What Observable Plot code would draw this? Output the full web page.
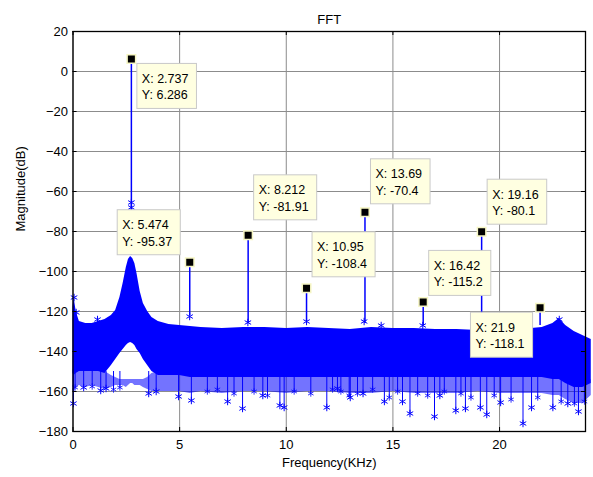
<!DOCTYPE html>
<html>
<head>
<meta charset="utf-8">
<script src="https://cdn.jsdelivr.net/npm/d3@7"></script>
<script src="https://cdn.jsdelivr.net/npm/@observablehq/plot@0.6"></script>
<style>
  html, body { margin: 0; padding: 0; background: white; }
  svg { display: block; }
</style>
</head>
<body>
<script>
// ---- Data ----
const xTicks = [0, 5, 10, 15, 20];
const yTicks = [20, 0, -20, -40, -60, -80, -100, -120, -140, -160, -180];

// Harmonic peaks (data tips)
const harmF = [2.737, 5.474, 8.212, 10.95, 13.69, 16.42, 19.16, 21.9];
const harmV = [6.286, -95.37, -81.91, -108.4, -70.4, -115.2, -80.1, -118.1];
const harmBase = [-92, -122, -126, -125, -126, -127, -129, -127];

// Noise floor envelope (kHz, dB)
const noiseF = [0, 0.05, 0.15, 0.3, 0.6, 0.9, 1.2, 1.5, 1.8, 2.0, 2.2, 2.35, 2.5, 2.6, 2.7, 2.8, 2.9, 3.0, 3.15, 3.3, 3.5, 3.7, 4.0, 4.5, 5.0, 5.5, 6, 7, 8, 9, 10, 11, 12, 13, 14, 15, 16, 17, 18, 19, 20, 21, 22, 22.5, 22.8, 23.1, 23.5, 23.9, 24.3];
const noiseTop = [-118, -113, -120, -125, -126, -126, -125, -124, -122, -119.5, -113, -106, -98, -94, -92.5, -93.5, -96, -101, -110, -116, -120, -123, -125, -126.5, -127, -127.5, -128, -128.5, -128, -128, -128.5, -128, -128.5, -129, -128, -128.5, -128.5, -129, -129, -129.5, -129, -129, -128, -126, -123.5, -127, -130, -132, -134];
const noiseBottom = [-151, -152, -151, -150, -150, -150, -150, -151, -147, -144, -141, -139, -137, -136, -135.5, -136, -137, -139, -141, -144, -147, -150, -152, -152, -152, -153, -153, -153, -153, -153, -153, -153, -153, -153, -153, -153, -153, -153, -153, -153, -153, -153, -153, -154, -154, -156, -158, -158, -156];
const fringeTop = [-149, -150, -149, -148, -148, -148, -148, -150, -152, -153, -154, -154, -154, -154, -154, -154, -154, -154, -154, -154, -153, -151, -150, -150, -150, -151, -151, -151, -151, -151, -151, -151, -151, -151, -151, -151, -151, -151, -151, -151, -151, -151, -151, -152, -152, -154, -156, -156, -154];
const fringeBottom = [-160, -161, -158, -157, -158, -157, -158, -159, -158, -157, -157, -157, -158, -157, -156, -156, -157, -157, -157, -158, -159, -160, -160, -160, -160, -161, -160, -161, -160, -160, -161, -160, -160, -161, -161, -160, -161, -161, -161, -160, -161, -161, -161, -162, -162, -164, -166, -166, -162];

// Deep dips below the noise floor
const dipF = [0.02, 0.5, 1.3, 1.55, 3.55, 3.9, 4.95, 5.55, 7.25, 7.95, 8.9, 9.7, 9.9, 11.9, 12.4, 13.0, 13.6, 14.6, 15.45, 15.8, 16.95, 17.2, 17.95, 18.4, 19.1, 19.4, 20.05, 21.1, 21.5, 22.5, 23.2, 23.7];
const dipV = [-166, -158, -159.5, -158.5, -161, -160, -162.5, -164.5, -165, -168.5, -162, -167, -168, -168, -158.5, -163, -161, -165, -165, -171, -172.5, -162, -169.5, -168.5, -168, -171.5, -165.5, -176, -168, -168, -166, -170];

// Shallower dips (asterisk fringe)
const fringeDipF = [0.1, 0.9, 1.9, 2.2, 6.3, 6.77, 7.55, 8.49, 9.12, 10.37, 11.15, 12.17, 12.56, 12.95, 13.34, 14.05, 14.83, 15.22, 16.16, 16.63, 17.41, 18.19, 18.66, 19.75, 20.54, 21.79, 22.89, 23.51, 23.98];
const fringeDipV = [-158, -157.5, -159, -158, -160, -159, -161, -160, -162, -160, -161, -159, -160, -162, -161, -159, -163, -160, -161, -162, -160, -161, -163, -162, -164, -163, -165, -166, -165];

// Asterisk bumps on top of the noise floor
const bumpF = [0.05, 0.15, 1.15, 5.47, 8.2, 10.95, 13.65, 14.45, 16.4, 22.8, 2.737, 2.737];
const bumpV = [-113, -120.5, -124, -122.5, -125.5, -125, -125, -127, -127, -124, -65.5, -68];

// Data-tip placement (layout, not data)
const tipDx = [6, -9, 6, 6, 6, 6, 6, -7];
const tipDy = [5, -7, -15, -11, -8, -6, -7, 5];
const tipSide = ["se", "nw", "ne", "ne", "ne", "ne", "ne", "sw"];

// ---- Build tables ----
const noise = noiseF.map((f, i) => ({f, top: noiseTop[i], bot: noiseBottom[i], ft: fringeTop[i], fb: fringeBottom[i]}));
const harm = harmF.map((f, i) => ({f, v: harmV[i], base: harmBase[i]}));
const dips = dipF.map((f, i) => ({f, v: dipV[i]}));
const fdips = fringeDipF.map((f, i) => ({f, v: fringeDipV[i]}));
const bumps = bumpF.map((f, i) => ({f, v: bumpV[i]}));

const BLUE = "#0000ff";
const GRID = "#8c8c8c";
const XMAX = 24.03;

const chart = Plot.plot({
  width: 593,
  height: 477,
  marginLeft: 72.5,
  marginRight: 8,
  marginTop: 31,
  marginBottom: 46,
  style: {fontFamily: "'Liberation Sans', Arial, sans-serif", fontSize: "13px", color: "black", background: "white", overflow: "visible"},
  x: {domain: [0, XMAX], ticks: xTicks, tickSize: 0, tickPadding: 8, label: null},
  y: {domain: [-180, 20], ticks: yTicks, tickSize: 0, tickPadding: 5, label: null},
  marks: [
    Plot.ruleX(xTicks, {x: d => d, stroke: GRID, strokeWidth: 1}),
    Plot.ruleY(yTicks, {y: d => d, stroke: GRID, strokeWidth: 1}),
    // noise floor
    Plot.areaY(noise, {x: "f", y1: "fb", y2: "ft", fill: BLUE, fillOpacity: 0.55}),
    Plot.ruleX(dips, {x: "f", y1: d => -150, y2: "v", stroke: BLUE, strokeWidth: 1}),
    Plot.dot(dips, {x: "f", y: "v", symbol: "asterisk", r: 3.5, stroke: BLUE, strokeWidth: 1}),
    Plot.ruleX(fdips, {x: "f", y1: d => -150, y2: "v", stroke: BLUE, strokeWidth: 1}),
    Plot.dot(fdips, {x: "f", y: "v", symbol: "asterisk", r: 3, stroke: BLUE, strokeWidth: 1, strokeOpacity: 0.8}),
    Plot.areaY(noise, {x: "f", y1: "bot", y2: "top", fill: BLUE}),
    Plot.dot(bumps, {x: "f", y: "v", symbol: "asterisk", r: 3.5, stroke: BLUE, strokeWidth: 1}),
    // harmonic stems
    Plot.ruleX(harm, {x: "f", y1: "base", y2: "v", stroke: BLUE, strokeWidth: 1.5}),
    Plot.dot(harm, {x: "f", y: "v", symbol: "square", r: 4.8, fill: "black", stroke: "#f6f6c4", strokeWidth: 1.5}),
    // inward ticks
    Plot.ruleX(xTicks, {x: d => d, y1: d => -180, y2: d => -178, stroke: "black"}),
    Plot.ruleX(xTicks, {x: d => d, y1: d => 20, y2: d => 18, stroke: "black"}),
    Plot.ruleY(yTicks, {y: d => d, x1: d => 0, x2: d => 0.19, stroke: "black"}),
    Plot.ruleY(yTicks, {y: d => d, x1: d => XMAX - 0.19, x2: d => XMAX, stroke: "black"}),
    Plot.frame({stroke: "black", strokeWidth: 1.3}),
    // titles
    Plot.text(["FFT"], {text: d => d, frameAnchor: "top", dy: -17, fontSize: 13}),
    Plot.text(["Frequency(KHz)"], {text: d => d, frameAnchor: "bottom", dy: 35, fontSize: 13}),
    Plot.text(["Magnitude(dB)"], {text: d => d, frameAnchor: "left", dx: -52.5, rotate: -90, fontSize: 13})
  ]
});

document.body.appendChild(chart);

// ---- Data tips (boxes) positioned through the plot's own scales ----
const sx = chart.scale("x"), sy = chart.scale("y");
const svg = d3.select(chart);
const tipLayer = svg.append("g")
  .attr("font-family", "'Liberation Sans', Arial, sans-serif")
  .attr("font-size", 12.5)
  .attr("text-anchor", "start")
  .attr("fill", "black");
harmF.forEach((f, i) => {
  const px = sx.apply(f), py = sy.apply(harmV[i]);
  const g = tipLayer.append("g");
  const rect = g.append("rect").attr("fill", "#ffffe1").attr("stroke", "#c9c9c9").attr("stroke-width", 1);
  const t1 = g.append("text").attr("text-anchor", "start").text(`X: ${harmF[i]}`);
  const t2 = g.append("text").attr("text-anchor", "start").text(`Y: ${harmV[i]}`);
  const tw = Math.max(t1.node().getComputedTextLength(), t2.node().getComputedTextLength());
  const w = tw + 13, h = 45;
  const side = tipSide[i];
  const left = side.includes("e") ? px + tipDx[i] : px + tipDx[i] - w;
  const top = side.includes("s") ? py + tipDy[i] : py + tipDy[i] - h;
  rect.attr("x", left).attr("y", top).attr("width", w).attr("height", h);
  t1.attr("x", left + 5).attr("y", top + 19.4);
  t2.attr("x", left + 5).attr("y", top + 36);
});
</script>
</body>
</html>
